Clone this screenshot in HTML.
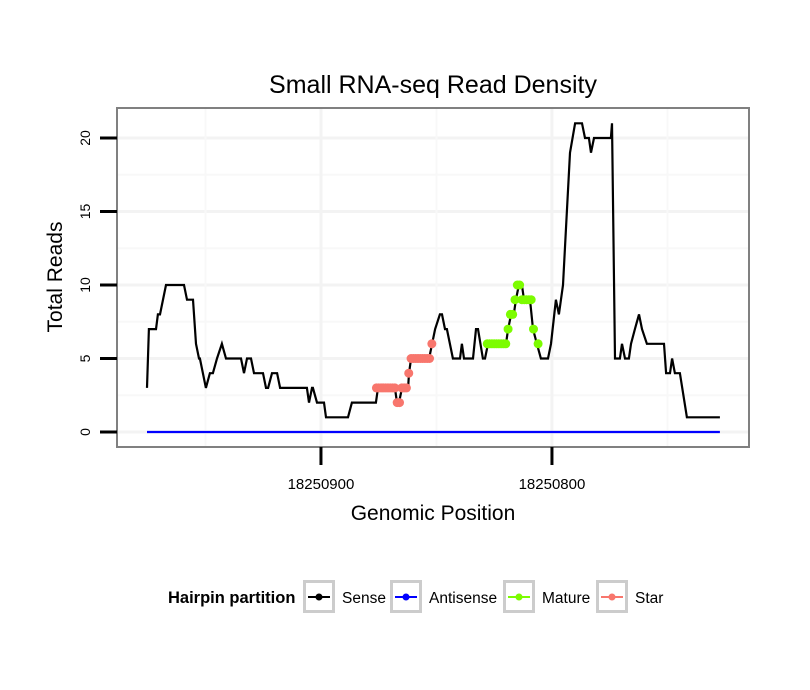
<!DOCTYPE html>
<html><head><meta charset="utf-8"><style>
body{margin:0;background:#fff;}
svg{display:block;font-family:"Liberation Sans",sans-serif;}
</style></head><body>
<svg id="chart" width="810" height="690"></svg>
<script>
const NS="http://www.w3.org/2000/svg";
const senseValues=[3,7,7,8,8,10,10,9,9,6,5,5,3,4,4,5,6,5,5,4,5,5,4,4,3,3,4,4,3,3,2,3,3,2,2,1,1,2,2,3,3,2,2,3,3,4,5,5,6,7,8,8,7,7,5,5,6,5,5,7,7,5,5,6,6,7,8,8,9,10,10,9,9,7,6,5,5,6,9,8,10,14,19,21,21,20,20,19,20,20,21,5,5,6,5,5,6,7,8,7,6,6,4,4,5,4,4,1,1];
const sensePositions=[18250975.3,18250974.5,18250971.4,18250970.6,18250969.7,18250967.1,18250959.3,18250958.0,18250955.4,18250954.1,18250952.8,18250952.4,18250949.8,18250948.1,18250946.8,18250945.0,18250942.9,18250941.1,18250934.6,18250933.3,18250932.0,18250930.3,18250929.0,18250925.1,18250923.8,18250922.9,18250921.2,18250919.0,18250917.7,18250906.1,18250905.2,18250903.9,18250903.5,18250901.7,18250898.7,18250897.8,18250888.3,18250886.6,18250876.2,18250875.3,18250868.0,18250867.1,18250866.2,18250864.9,18250862.3,18250861.9,18250861.0,18250853.2,18250851.9,18250850.6,18250848.5,18250847.6,18250846.3,18250845.5,18250842.9,18250839.8,18250839.0,18250838.1,18250834.2,18250832.9,18250832.0,18250829.9,18250829.0,18250827.7,18250819.9,18250819.0,18250817.7,18250816.5,18250815.6,18250814.3,18250813.0,18250812.1,18250809.5,18250808.2,18250806.5,18250804.8,18250801.7,18250800.4,18250798.3,18250797.0,18250795.2,18250793.9,18250792.2,18250790.0,18250787.0,18250785.7,18250784.0,18250783.1,18250781.8,18250774.5,18250774.0,18250772.7,18250770.6,18250769.7,18250768.4,18250766.7,18250765.8,18250764.1,18250762.3,18250761.0,18250758.9,18250751.5,18250750.6,18250748.9,18250748.0,18250746.8,18250744.6,18250741.6,18250727.3];
const antisensePositions=[18250975.3,18250727.3];
const antisenseValues=[0,0];
const starPositions=[18250876,18250875,18250874,18250873,18250872,18250871,18250870,18250869,18250868,18250867,18250866,18250865,18250864,18250863,18250862,18250861,18250860,18250859,18250858,18250857,18250856,18250855,18250854,18250853,18250852];
const starValues=[3,3,3,3,3,3,3,3,3,2,2,3,3,3,4,5,5,5,5,5,5,5,5,5,6];
const maturePositions=[18250828,18250827,18250826,18250825,18250824,18250823,18250822,18250821,18250820,18250819,18250818,18250817,18250816,18250815,18250814,18250813,18250812,18250811,18250810,18250809,18250808,18250806];
const matureValues=[6,6,6,6,6,6,6,6,6,7,8,8,9,10,10,9,9,9,9,9,7,6];
const yTicks=[0,5,10,15,20];
const xTicks=[18250900,18250800];

const svg=document.getElementById('chart');
const P={l:117,t:108,r:749,b:447};
const xMin=18250714.7,xMax=18250988.3,yMin=-1.02,yMax=22.04;
function X(p){return P.l+(xMax-p)/(xMax-xMin)*(P.r-P.l);}
function Y(v){return P.b-(v-yMin)/(yMax-yMin)*(P.b-P.t);}
function el(tag,attrs,parent){const e=document.createElementNS(NS,tag);for(const k in attrs)e.setAttribute(k,attrs[k]);(parent||svg).appendChild(e);return e;}

let t=el('text',{x:433,y:93,'text-anchor':'middle','font-size':25,fill:'#000'});t.textContent='Small RNA-seq Read Density';



const grid=el('g',{});


for(let v=0;v<=22;v+=2.5){el('line',{x1:P.l,x2:P.r,y1:Y(v),y2:Y(v),stroke:v%5===0?'#f3f3f3':'#f8f8f8','stroke-width':v%5===0?3:2},grid);}
for(let p=18251000;p>=18250700;p-=50){if(X(p)>P.l&&X(p)<P.r)el('line',{x1:X(p),x2:X(p),y1:P.t,y2:P.b,stroke:p%100===0?'#f3f3f3':'#f8f8f8','stroke-width':p%100===0?3:2},grid);}

function line(pos,val,color,name){
  const d=pos.map((p,i)=>(i?'L':'M')+X(p).toFixed(1)+','+Y(val[i]).toFixed(1)).join('');
  const e=el('path',{d:d,fill:'none',stroke:color,'stroke-width':2.2,'stroke-linejoin':'miter'});
  
  
}
line(antisensePositions,antisenseValues,'#0000ff','antisense-line');
line(sensePositions,senseValues,'#000','sense-line');
function dots(pos,val,color,name){
  const g=el('g',{});
  
  
  pos.forEach((p,i)=>{const c=el('circle',{cx:X(p),cy:Y(val[i]),r:4.5,fill:color},g);
    
    });
}
dots(starPositions,starValues,'#f8766d','star-points');
dots(maturePositions,matureValues,'#7cfc00','mature-points');

const border=el('rect',{x:P.l,y:P.t,width:P.r-P.l,height:P.b-P.t,fill:'none',stroke:'#808080','stroke-width':2});



yTicks.forEach(v=>{
  el('line',{x1:100,x2:117,y1:Y(v),y2:Y(v),stroke:'#000','stroke-width':3});
  const tx=el('text',{x:90,y:Y(v),'text-anchor':'middle','font-size':14,transform:`rotate(-90 90 ${Y(v)})`});
  tx.textContent=v;
  
  
});
xTicks.forEach(p=>{
  el('line',{x1:X(p),x2:X(p),y1:447,y2:465,stroke:'#000','stroke-width':3});
  const tx=el('text',{x:X(p),y:489,'text-anchor':'middle','font-size':15});
  tx.textContent=p;
  
  
});
t=el('text',{x:433,y:520,'text-anchor':'middle','font-size':21});t.textContent='Genomic Position';


t=el('text',{x:62,y:277,'text-anchor':'middle','font-size':21,transform:'rotate(-90 62 277)'});t.textContent='Total Reads';



const lg=el('g',{});


t=el('text',{x:168,y:603,'font-size':16.5,'font-weight':'bold'},lg);t.textContent='Hairpin partition';


const legItems=[['Sense','#000',303],['Antisense','#0000ff',390],['Mature','#7cfc00',503],['Star','#f8766d',596]];
legItems.forEach(([lab,col,x])=>{
  const g=el('g',{},lg);
  
  
  el('rect',{x:x+1.5,y:581.5,width:29,height:30,fill:'#fff',stroke:'#cccccc','stroke-width':3},g);
  el('line',{x1:x+5,x2:x+27,y1:597,y2:597,stroke:col,'stroke-width':2},g);
  el('circle',{cx:x+16,cy:597,r:3.5,fill:col},g);
  const tt=el('text',{x:x+39,y:603,'font-size':15.5},g);tt.textContent=lab;
});
</script>
</body></html>
